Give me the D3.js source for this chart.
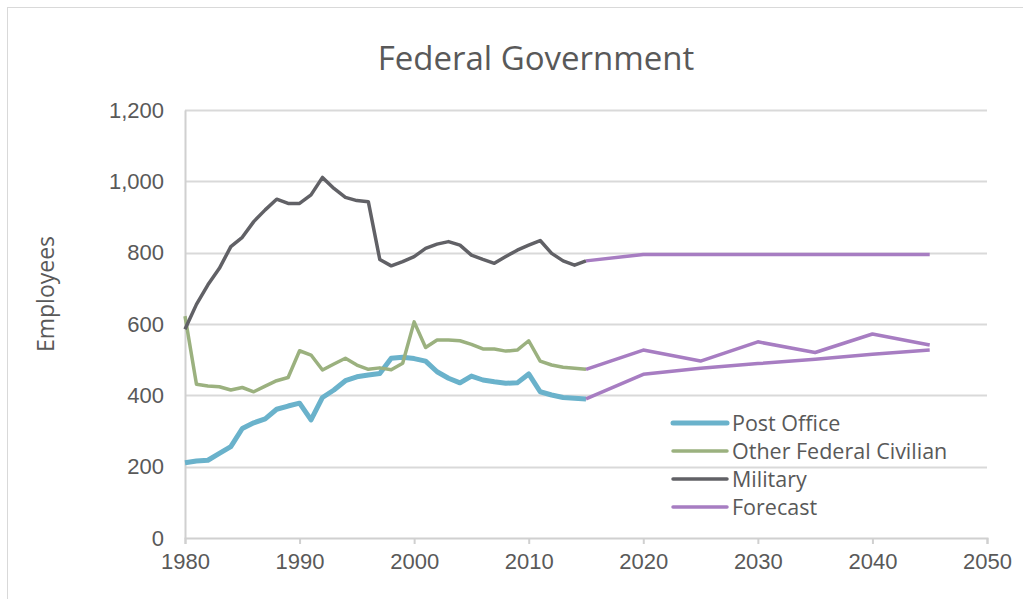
<!DOCTYPE html>
<html>
<head>
<meta charset="utf-8">
<script src="https://cdn.jsdelivr.net/npm/d3@7"></script>
<style>
  html, body { margin: 0; padding: 0; background: #fff; }
  svg { display: block; font-family: "Open Sans", "Liberation Sans", sans-serif; }
</style>
</head>
<body>
<svg id="chart" width="1023" height="599"></svg>
<script>
// Historical years 1980–2015
const years = d3.range(1980, 2016);

// Employees (thousands) by sector
const postOffice = [211, 216, 218, 237, 256, 307, 323, 334, 361, 370, 378, 331, 394, 415, 441, 452, 457, 461,
  504, 507, 503, 496, 466, 448, 435, 454, 443, 438, 434, 435, 460, 410, 401, 394, 392, 390];
const otherCivilian = [622, 431, 426, 424, 415, 422, 410, 426, 441, 450, 525, 513, 471, 488, 504, 485, 473, 477,
  472, 490, 606, 534, 555, 555, 553, 543, 530, 530, 524, 527, 553, 496, 485, 479, 476, 473];
const military = [585, 655, 710, 756, 817, 843, 887, 920, 950, 938, 938, 962, 1011, 980, 955, 946, 943, 781,
  763, 775, 789, 812, 824, 831, 821, 793, 781, 770, 789, 807, 821, 834, 798, 777, 765, 777];

// Forecast years and projected values
const forecastYears = [2015, 2020, 2025, 2030, 2035, 2040, 2045];
const forecastMilitary = [777, 795, 795, 795, 795, 795, 795];
const forecastCivilian = [473, 527, 496, 550, 520, 572, 541];
const forecastPostOffice = [390, 459, 476, 489, 501, 515, 527];

const xTicks = [1980, 1990, 2000, 2010, 2020, 2030, 2040, 2050];
const yTicks = [0, 200, 400, 600, 800, 1000, 1200];

const colors = {
  post: "#6ab2cb",
  civ: "#9bb17f",
  mil: "#616166",
  fc: "#a77dc2"
};

const svg = d3.select("#chart");
const W = 1023, H = 599;
const margin = { left: 185, right: 36, top: 110, bottom: 61 };

// Outer chart frame
svg.append("rect")
  .attr("x", 7.5).attr("y", 7.5)
  .attr("width", W + 20).attr("height", H + 20)
  .attr("fill", "#fff").attr("stroke", "#d9d9d9").attr("stroke-width", 1);

const x = d3.scaleLinear().domain([1980, 2050]).range([margin.left, W - margin.right]);
const y = d3.scaleLinear().domain([0, 1200]).range([H - margin.bottom, margin.top]);

// Gridlines
svg.append("g")
  .selectAll("line")
  .data(yTicks.filter(d => d > 0))
  .join("line")
  .attr("x1", x(1980)).attr("x2", x(2050))
  .attr("y1", d => Math.round(y(d)) + 0.5).attr("y2", d => Math.round(y(d)) + 0.5)
  .attr("stroke", "#d9d9d9").attr("stroke-width", 2);

// Y axis
const yAxis = svg.append("g")
  .attr("transform", `translate(${x(1980)},0)`)
  .call(d3.axisLeft(y).tickValues(yTicks).tickSize(0).tickPadding(21).tickFormat(d3.format(",")));
yAxis.select(".domain").attr("stroke", "#d0d0d0").attr("stroke-width", 2);
yAxis.selectAll("text").attr("fill", "#595959").style("font-size", "22px");

// X axis
const xAxis = svg.append("g")
  .attr("transform", `translate(0,${y(0)})`)
  .call(d3.axisBottom(x).tickValues(xTicks).tickSize(6).tickSizeOuter(6).tickPadding(9).tickFormat(d3.format("d")));
xAxis.select(".domain").attr("stroke", "#d0d0d0").attr("stroke-width", 2);
xAxis.selectAll(".tick line").attr("stroke", "#d0d0d0").attr("stroke-width", 2);
xAxis.selectAll("text").attr("fill", "#595959").style("font-size", "22px");

// Series lines
const line = d3.line().x(d => x(d[0])).y(d => y(d[1]));
const zip = (xs, vs) => xs.map((v, i) => [v, vs[i]]);

const series = [
  { data: zip(years, postOffice), color: colors.post, width: 5 },
  { data: zip(years, otherCivilian), color: colors.civ, width: 3.5 },
  { data: zip(years, military), color: colors.mil, width: 3.5 },
  { data: zip(forecastYears, forecastMilitary), color: colors.fc, width: 3.5 },
  { data: zip(forecastYears, forecastCivilian), color: colors.fc, width: 3.5 },
  { data: zip(forecastYears, forecastPostOffice), color: colors.fc, width: 3.5 }
];

svg.append("g")
  .selectAll("path")
  .data(series)
  .join("path")
  .attr("d", d => line(d.data))
  .attr("fill", "none")
  .attr("stroke", d => d.color)
  .attr("stroke-width", d => d.width)
  .attr("stroke-linejoin", "round");

// Title
svg.append("text")
  .attr("x", 536).attr("y", 70)
  .attr("text-anchor", "middle")
  .attr("fill", "#595959")
  .style("font-size", "33px")
  .text("Federal Government");

// Y axis title
svg.append("text")
  .attr("transform", `translate(54,294) rotate(-90)`)
  .attr("text-anchor", "middle")
  .attr("fill", "#595959")
  .style("font-size", "23px")
  .text("Employees");

// Legend
const legendItems = [
  { label: "Post Office", color: colors.post, width: 5 },
  { label: "Other Federal Civilian", color: colors.civ, width: 3.5 },
  { label: "Military", color: colors.mil, width: 3.5 },
  { label: "Forecast", color: colors.fc, width: 3.5 }
];
const legend = svg.append("g").attr("transform", "translate(673,423)");
const rows = legend.selectAll("g").data(legendItems).join("g")
  .attr("transform", (d, i) => `translate(0,${i * 28})`);
rows.append("line")
  .attr("x1", 0).attr("x2", 54).attr("y1", 0).attr("y2", 0)
  .attr("stroke", d => d.color).attr("stroke-width", d => d.width)
  .attr("stroke-linecap", "round");
rows.append("text")
  .attr("x", 59).attr("y", 0).attr("dy", "0.35em")
  .attr("fill", "#595959")
  .style("font-size", "21.5px")
  .text(d => d.label);
</script>
</body>
</html>
